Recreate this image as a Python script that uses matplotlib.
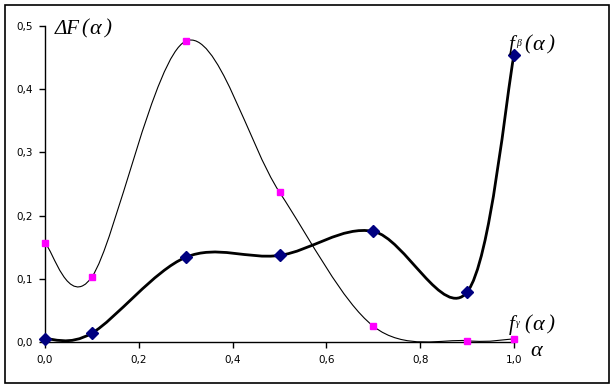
import matplotlib
matplotlib.use("Agg")
import matplotlib.pyplot as plt
from matplotlib.path import Path
from matplotlib.patches import PathPatch, Rectangle
import numpy as np

# data
alpha = [0.0, 0.1, 0.3, 0.5, 0.7, 0.9, 1.0]
f_gamma = [0.156, 0.103, 0.476, 0.237, 0.025, 0.002, 0.005]   # magenta squares
f_beta = [0.005, 0.014, 0.134, 0.137, 0.175, 0.079, 0.454]     # navy diamonds
x_ticks = [0.0, 0.2, 0.4, 0.6, 0.8, 1.0]
y_ticks = [0.0, 0.1, 0.2, 0.3, 0.4, 0.5]


def smooth_path(xs, ys):
    # Excel-like smoothed line: Catmull-Rom segments as cubic beziers
    p = np.column_stack([xs, ys])
    n = len(p)
    verts = [p[0]]
    codes = [Path.MOVETO]
    for i in range(n - 1):
        p0 = p[i - 1] if i > 0 else p[i]
        p3 = p[i + 2] if i + 2 < n else p[i + 1]
        c1 = p[i] + (p[i + 1] - p0) / 6.0
        c2 = p[i + 1] - (p3 - p[i]) / 6.0
        verts += [c1, c2, p[i + 1]]
        codes += [Path.CURVE4] * 3
    return Path(verts, codes)


W, H = 615, 388
fig = plt.figure(figsize=(W / 100, H / 100), dpi=100)
fig.patches.append(Rectangle((5 / W, 5 / H), 604 / W, 378 / H, transform=fig.transFigure,
                             fill=False, edgecolor="black", linewidth=1.2))

ax = fig.add_axes([45 / W, 1 - 342 / H, (514 - 45) / W, (342 - 26) / H])
ax.set_xlim(0, 1.0)
ax.set_ylim(0, 0.5)

ax.add_patch(PathPatch(smooth_path(alpha, f_gamma), fill=False, edgecolor="black",
                       linewidth=0.8, zorder=2))
ax.add_patch(PathPatch(smooth_path(alpha, f_beta), fill=False, edgecolor="black",
                       linewidth=2.0, zorder=2))
ax.plot(alpha, f_gamma, linestyle="none", marker="s", markersize=4.5,
        color="#FF00FF", zorder=3, clip_on=False)
ax.plot(alpha, f_beta, linestyle="none", marker="D", markersize=6.5,
        color="#000080", zorder=3, clip_on=False)

for s in ["top", "right"]:
    ax.spines[s].set_visible(False)
for s in ["left", "bottom"]:
    ax.spines[s].set_linewidth(1.0)

ax.set_xticks(x_ticks)
ax.set_yticks(y_ticks)
ax.set_xticklabels([("%.1f" % v).replace(".", ",") for v in x_ticks])
ax.set_yticklabels([("%.1f" % v).replace(".", ",") for v in y_ticks])
ax.tick_params(direction="out", length=4, width=1, labelsize=7.5, pad=5)

serif = dict(family="Liberation Serif", style="italic", color="black")


def label(x0, y0, base, sub):
    # "f(α)"-style label pieced together, pixel positions from the top-left
    fig.text(x0 / W, 1 - y0 / H, base, fontsize=15, va="center", ha="left", **serif)
    off = 7 if base == "f" else 24
    if sub:
        fig.text((x0 + off) / W, 1 - (y0 - 2) / H, sub, fontsize=7, va="center",
                 ha="left", **serif)
        off += 6
    fig.text((x0 + off + 2) / W, 1 - y0 / H, "(", fontsize=15, va="center", ha="left", **serif)
    fig.text((x0 + off + 10) / W, 1 - y0 / H, "α", fontsize=16, va="center", ha="left", **serif)
    fig.text((x0 + off + 26) / W, 1 - y0 / H, ")", fontsize=15, va="center", ha="left", **serif)


label(55, 29, "ΔF", "")
label(509, 45, "f", "β")
label(509, 325, "f", "γ")

fig.text(530 / W, 1 - 352 / H, "α", fontsize=16, va="center", ha="left", **serif)

fig.savefig("out.png", dpi=100)
